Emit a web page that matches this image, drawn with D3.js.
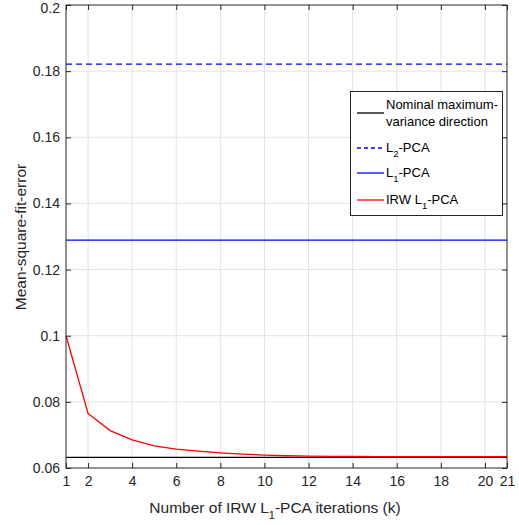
<!DOCTYPE html>
<html>
<head>
<meta charset="utf-8">
<script src="https://cdn.jsdelivr.net/npm/d3@7"></script>
<style>
  body { margin: 0; background: #fff; }
  svg { font-family: 'Liberation Sans', Arial, sans-serif; }
</style>
</head>
<body>
<div id="chart"></div>
<script>
// data
var iterations = d3.range(1, 22);
var irwValues = [0.1, 0.0765, 0.0713, 0.0685, 0.0667, 0.0657, 0.0651, 0.0646, 0.0642,
  0.0639, 0.0637, 0.0636, 0.0635, 0.0635, 0.0634, 0.0634, 0.0634, 0.0634, 0.0634, 0.0634, 0.0634];
var nominalValue = 0.0632;
var l2Value = 0.1821;
var l1Value = 0.1289;
var xTicks = [1, 2, 4, 6, 8, 10, 12, 14, 16, 18, 20, 21];
var yTicks = [0.06, 0.08, 0.1, 0.12, 0.14, 0.16, 0.18, 0.2];

var legendItems = [
  {label: ['Nominal maximum-', 'variance direction'], color: '#000', dash: null},
  {label: ['L', '2', '-PCA'], color: '#0000ff', dash: '4,3'},
  {label: ['L', '1', '-PCA'], color: '#0000ff', dash: null},
  {label: ['IRW L', '1', '-PCA'], color: '#ff0000', dash: null}
];

var W = 519, H = 525;
var margin = {top: 5, right: 12, bottom: 57, left: 66};
var width = W - margin.left - margin.right;
var height = H - margin.top - margin.bottom;
var axisColor = '#262626';

var svg = d3.select('#chart').append('svg')
    .attr('width', W)
    .attr('height', H);

var g = svg.append('g')
    .attr('transform', 'translate(' + margin.left + ',' + margin.top + ')');

var x = d3.scaleLinear().domain([1, 21]).range([0, width]);
var y = d3.scaleLinear().domain([0.06, 0.2]).range([height, 0]);

// grid
g.append('g').selectAll('line')
    .data(xTicks.slice(1, -1))
  .enter().append('line')
    .attr('x1', function(d) { return x(d); })
    .attr('x2', function(d) { return x(d); })
    .attr('y1', 0).attr('y2', height)
    .attr('stroke', '#e3e3e3');

g.append('g').selectAll('line')
    .data(yTicks.slice(1, -1))
  .enter().append('line')
    .attr('y1', function(d) { return y(d); })
    .attr('y2', function(d) { return y(d); })
    .attr('x1', 0).attr('x2', width)
    .attr('stroke', '#e3e3e3');

var line = d3.line()
    .x(function(d) { return x(d[0]); })
    .y(function(d) { return y(d[1]); });

function hline(v, color, dash) {
  g.append('path')
      .datum([[1, v], [21, v]])
      .attr('d', line)
      .attr('fill', 'none')
      .attr('stroke', color)
      .attr('stroke-width', 1.3)
      .attr('stroke-dasharray', dash);
}

hline(nominalValue, '#000', null);
hline(l2Value, '#0000ff', '6,4');
hline(l1Value, '#0000ff', null);

g.append('path')
    .datum(iterations.map(function(k, i) { return [k, irwValues[i]]; }))
    .attr('d', line)
    .attr('fill', 'none')
    .attr('stroke', '#ff0000')
    .attr('stroke-width', 1.3);

// axes, MATLAB style box with inward ticks
function styleAxis(sel) {
  sel.selectAll('.domain').remove();
  sel.selectAll('line').attr('stroke', axisColor);
  sel.selectAll('text')
      .attr('fill', axisColor)
      .attr('font-size', 14)
      .attr('font-family', "'Liberation Sans', Arial, sans-serif");
}

g.append('g')
    .attr('transform', 'translate(0,' + height + ')')
    .call(d3.axisBottom(x).tickValues(xTicks).tickSize(-5).tickPadding(8).tickFormat(d3.format('d')))
    .call(styleAxis);

g.append('g')
    .call(d3.axisTop(x).tickValues(xTicks).tickSize(-5).tickFormat(''))
    .call(styleAxis);

var yAxisG = g.append('g')
    .call(d3.axisLeft(y).tickValues(yTicks).tickSize(-5).tickPadding(6).tickFormat(function(d) { return d3.format('')(+d.toFixed(2)); }))
    .call(styleAxis);

g.append('g')
    .attr('transform', 'translate(' + width + ',0)')
    .call(d3.axisRight(y).tickValues(yTicks).tickSize(-5).tickFormat(''))
    .call(styleAxis);

// top label sits against the edge; nudge it down a touch like the original
yAxisG.selectAll('.tick text')
    .filter(function(d) { return Math.abs(d - 0.2) < 1e-9; })
    .attr('dy', '0.55em');

g.append('rect')
    .attr('width', width).attr('height', height)
    .attr('fill', 'none')
    .attr('stroke', axisColor)
    .attr('stroke-width', 1);

// axis labels
var xLabel = svg.append('text')
    .attr('x', 275)
    .attr('y', 513)
    .attr('text-anchor', 'middle')
    .attr('font-size', 15.5)
    .attr('fill', axisColor);
xLabel.append('tspan').text('Number of IRW L');
xLabel.append('tspan').attr('font-size', 11).attr('dy', 6).text('1');
xLabel.append('tspan').attr('dy', -6).text('-PCA iterations (k)');

svg.append('text')
    .attr('transform', 'translate(26,' + 237 + ') rotate(-90)')
    .attr('text-anchor', 'middle')
    .attr('font-size', 15.5)
    .attr('fill', axisColor)
    .text('Mean-square-fit-error');

// legend
var legend = svg.append('g').attr('class', 'legend');
legend.append('rect')
    .attr('x', 350.5).attr('y', 91.5)
    .attr('width', 152).attr('height', 124)
    .attr('fill', '#fff')
    .attr('stroke', axisColor);

var rowY = [113, 148, 173, 200];
legendItems.forEach(function(item, i) {
  legend.append('line')
      .attr('x1', 357).attr('x2', 384)
      .attr('y1', rowY[i]).attr('y2', rowY[i])
      .attr('stroke', item.color)
      .attr('stroke-width', 1.3)
      .attr('stroke-dasharray', item.dash);
  var t = legend.append('text')
      .attr('x', 386)
      .attr('font-size', 13)
      .attr('fill', '#000');
  if (i === 0) {
    t.attr('y', rowY[i] - 4).text(item.label[0]);
    legend.append('text')
        .attr('x', 386).attr('y', rowY[i] + 13)
        .attr('font-size', 13)
        .attr('fill', '#000')
        .text(item.label[1]);
  } else {
    t.attr('y', rowY[i] + 4);
    t.append('tspan').text(item.label[0]);
    t.append('tspan').attr('font-size', 9.5).attr('dy', 5).text(item.label[1]);
    t.append('tspan').attr('dy', -5).text(item.label[2]);
  }
});
</script>
</body>
</html>
